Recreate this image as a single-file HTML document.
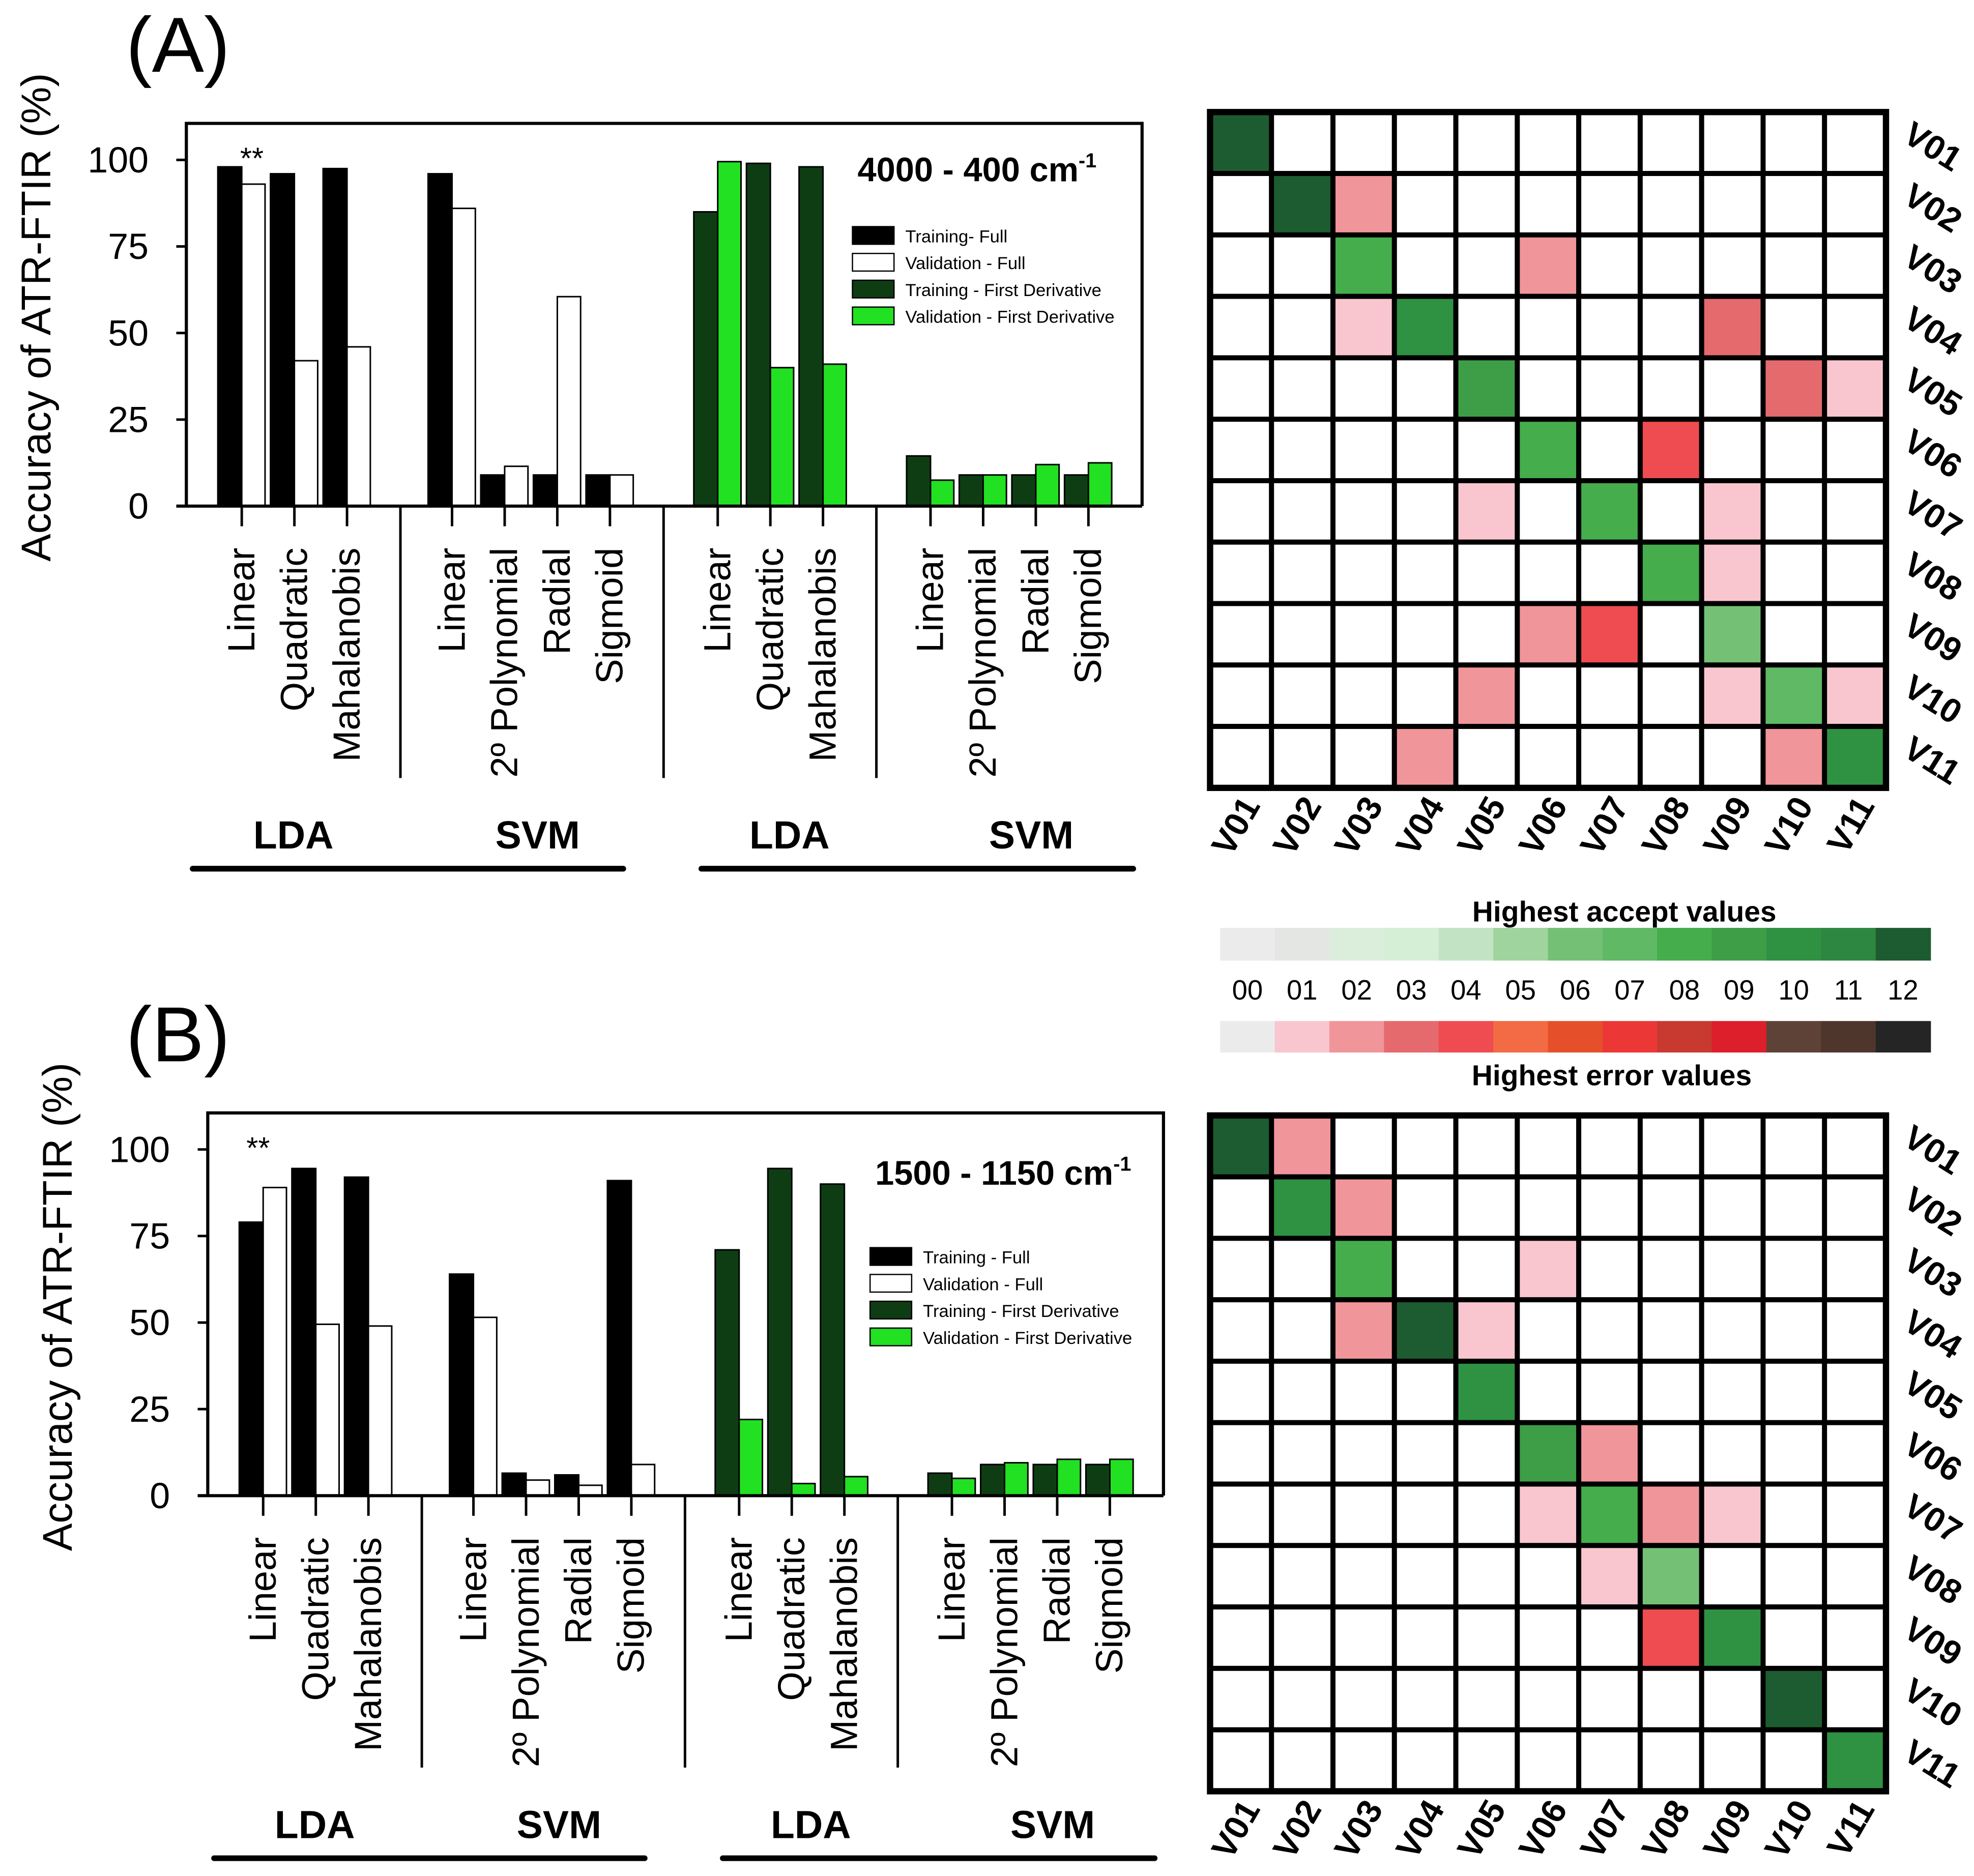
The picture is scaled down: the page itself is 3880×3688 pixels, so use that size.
<!DOCTYPE html>
<html><head><meta charset="utf-8"><style>
html,body{margin:0;padding:0;background:#fff;}
svg{display:block;}
text{font-family:"Liberation Sans",Arial,sans-serif;fill:#000;}
</style></head><body>
<svg id="fig" xmlns="http://www.w3.org/2000/svg" width="3880" height="3688" viewBox="0 0 1567.7 1490.1"></svg>
<script>
// ---------- data ----------
const categories = ["Linear","Quadratic","Mahalanobis","Linear","2º Polynomial","Radial","Sigmoid","Linear","Quadratic","Mahalanobis","Linear","2º Polynomial","Radial","Sigmoid"];
const sections = [0,0,0,1,1,1,1,2,2,2,3,3,3,3];
const groupLabels = ["LDA","SVM","LDA","SVM"];
const yTicks = [0,25,50,75,100];
const seriesNames = ["Training- Full","Validation - Full","Training - First Derivative","Validation - First Derivative"];
const seriesNamesB = ["Training - Full","Validation - Full","Training - First Derivative","Validation - First Derivative"];
// panel A
const trainA = [98,96,97.5, 96,9,9,9, 85,99,98, 14.5,9,9,9];
const validA = [93,42,46, 86,11.5,60.5,9, 99.5,40,41, 7.5,9,12,12.5];
// panel B
const trainB = [79,94.5,92, 64,6.5,6,91, 71,94.5,90, 6.5,9,9,9];
const validB = [89,49.5,49, 51.5,4.5,3,9, 22,3.5,5.5, 5,9.5,10.5,10.5];
// heatmaps
const varLabels = ["V01","V02","V03","V04","V05","V06","V07","V08","V09","V10","V11"];
const scaleLabels = ["00","01","02","03","04","05","06","07","08","09","10","11","12"];
const acceptColors = ["#ebebeb","#e3e6e3","#dbeedb","#d5eed6","#c3e4c4","#9fd49f","#74c176","#60b965","#45ad4b","#3d9e47","#2f9142","#2d8740","#1d5c30"];
const errorColors = ["#ebebeb","#f9c6cf","#f0959a","#e56a6e","#ee4c50","#f26b45","#e5502b","#ec3737","#c8392f","#dc1f2a","#5e4238","#4e362c","#252525"];
const diagA = [12,12,8,10,9,8,8,8,6,7,10];
const errA = [[2,3,2],[3,6,2],[4,3,1],[4,9,3],[5,10,3],[5,11,1],[6,8,4],[7,5,1],[7,9,1],[8,9,1],[9,6,2],[9,7,4],[10,5,2],[10,9,1],[10,11,1],[11,4,2],[11,10,2]];
const diagB = [12,10,8,12,10,9,8,6,10,12,10];
const errB = [[1,2,2],[2,3,2],[3,6,1],[4,3,2],[4,5,1],[6,7,2],[7,6,1],[7,8,2],[7,9,1],[8,7,1],[9,8,4]];

const NS="http://www.w3.org/2000/svg";
const svg=document.getElementById('fig');
function mk(tag,attrs,parent,txt){const e=document.createElementNS(NS,tag);for(const k in attrs)e.setAttribute(k,attrs[k]);if(txt!==undefined)e.textContent=txt;(parent||svg).appendChild(e);return e;}

function barPanel(ox,oy,train,valid,letter,rangeText,names,legX,legY,starX,titleY){
  const g=mk('g',{});
  
  
  const left=148+ox,right=907+ox,top=98+oy,base=402+oy;
  const y=v=>base-v*2.75;
  const secStart=[192,359,570,739];
  const xc=i=>secStart[sections[i]]+ox+(i-sections.indexOf(sections[i]))*41.8;
  const lt=mk('text',{x:100,y:57+oy,'font-size':62},g,'('+letter+')');
  
  
  const yt=mk('text',{x:0,y:0,'font-size':33,'text-anchor':'middle',transform:`translate(${40+ox},${252+oy}) rotate(-90)`},g,'Accuracy of ATR-FTIR (%)');
  
  
  for(let i=0;i<categories.length;i++){
    const fd=sections[i]>=2;
    const c=xc(i);
    const b1=mk('rect',{x:c-19,y:y(train[i]),width:19,height:base-y(train[i]),fill:fd?'#0e3d14':'#000',stroke:'#000','stroke-width':1.2},g);
    
    
    const b2=mk('rect',{x:c,y:y(valid[i]),width:18.5,height:base-y(valid[i]),fill:fd?'#22e022':'#fff',stroke:'#000','stroke-width':1.2},g);
    
    
    mk('line',{x1:c,x2:c,y1:base,y2:base+16,stroke:'#000','stroke-width':2},g);
    const cl=mk('text',{x:0,y:0,'font-size':30,'text-anchor':'end',transform:`translate(${c+10},${base+33}) rotate(-90)`},g,categories[i]);
    
    
  }
  mk('path',{d:`M${left},${base} V${top} H${right} V${base}`,fill:'none',stroke:'#000','stroke-width':2.5},g);
  mk('line',{x1:left-8,x2:right,y1:base,y2:base,stroke:'#000','stroke-width':2.5},g);
  yTicks.forEach(t=>{
    mk('line',{x1:left-8,x2:left,y1:y(t),y2:y(t),stroke:'#000','stroke-width':2},g);
    const tl=mk('text',{x:left-30,y:y(t)+10,'font-size':29,'text-anchor':'end'},g,String(t));
    
    
  });
  [318,527,696].forEach(sx=>mk('line',{x1:sx+ox,x2:sx+ox,y1:base,y2:base+216,stroke:'#000','stroke-width':2},g));
  [233,427,627,819].forEach((gx,k)=>{
    const gl=mk('text',{x:gx+ox,y:674+oy,'font-size':31,'font-weight':'bold','text-anchor':'middle'},g,groupLabels[k]);
    
    
  });
  mk('line',{x1:153+ox,x2:495+ox,y1:690+oy,y2:690+oy,stroke:'#000','stroke-width':4.5,'stroke-linecap':'round'},g);
  mk('line',{x1:557+ox,x2:900+ox,y1:690+oy,y2:690+oy,stroke:'#000','stroke-width':4.5,'stroke-linecap':'round'},g);
  const st=mk('text',{x:starX,y:y(100)+7,'font-size':24,'text-anchor':'middle'},g,'**');
  
  
  const rt=mk('text',{x:legX+4,y:titleY,'font-size':27,'font-weight':'bold'},g);
  
  
  mk('tspan',{},rt,rangeText+' cm');
  mk('tspan',{dy:-11,'font-size':16},rt,'-1');
  const fills=['#000','#fff','#0e3d14','#22e022'];
  for(let k=0;k<4;k++){
    const ly=legY+k*21.3;
    const sw=mk('rect',{x:legX,y:ly,width:33,height:14,fill:fills[k],stroke:'#000','stroke-width':1},g);
    
    
    const lx=mk('text',{x:legX+42,y:ly+12.5,'font-size':14},g,names[k]);
    
    
  }
}
barPanel(0,0,trainA,validA,'A','4000 - 400',seriesNames,677,180,200,144);
barPanel(17,786,trainB,validB,'B','1500 - 1150',seriesNamesB,691,991,205,941);

function heatmap(oy,diag,errs,id){
  const g=mk('g',{});
  
  
  const L=961,T=89+oy,cs=48.8;
  for(let r=0;r<11;r++)for(let c=0;c<11;c++){
    let col='#fff';
    if(r===c)col=acceptColors[diag[r]];
    errs.forEach(e=>{if(e[0]===r+1&&e[1]===c+1)col=errorColors[e[2]];});
    const cell=mk('rect',{x:L+c*cs,y:T+r*cs,width:cs,height:cs,fill:col,stroke:'#000','stroke-width':4},g);
    
    
  }
  mk('rect',{x:L,y:T,width:cs*11,height:cs*11,fill:'none',stroke:'#000','stroke-width':5},g);
  for(let i=0;i<11;i++){
    const rl=mk('text',{x:0,y:0,'font-size':27,'font-weight':'bold',transform:`translate(${L+cs*11+12},${T+i*cs+cs/2-2}) rotate(32)`},g,varLabels[i]);
    
    
    const cl=mk('text',{x:0,y:0,'font-size':27,'font-weight':'bold','text-anchor':'end',transform:`translate(${L+i*cs+cs/2+16},${T+cs*11+14}) rotate(-60)`},g,varLabels[i]);
    
    
  }
}
heatmap(0,diagA,errA,'a');
heatmap(797,diagB,errB,'b');

(function(){
  const g=mk('g',{});
  
  
  const L=969,w=(1533-969)/13;
  const t1=mk('text',{x:1290,y:732,'font-size':23,'font-weight':'bold','text-anchor':'middle'},g,'Highest accept values');
  
  
  const t2=mk('text',{x:1280,y:862,'font-size':23,'font-weight':'bold','text-anchor':'middle'},g,'Highest error values');
  
  
  for(let i=0;i<13;i++){
    mk('rect',{x:L+i*w,y:737,width:w+0.5,height:26,fill:acceptColors[i]},g);
    mk('rect',{x:L+i*w,y:811,width:w+0.5,height:25,fill:errorColors[i]},g);
    const n=mk('text',{x:L+i*w+w/2,y:794,'font-size':22,'text-anchor':'middle'},g,scaleLabels[i]);
    
    
  }
})();
</script>
</body></html>
